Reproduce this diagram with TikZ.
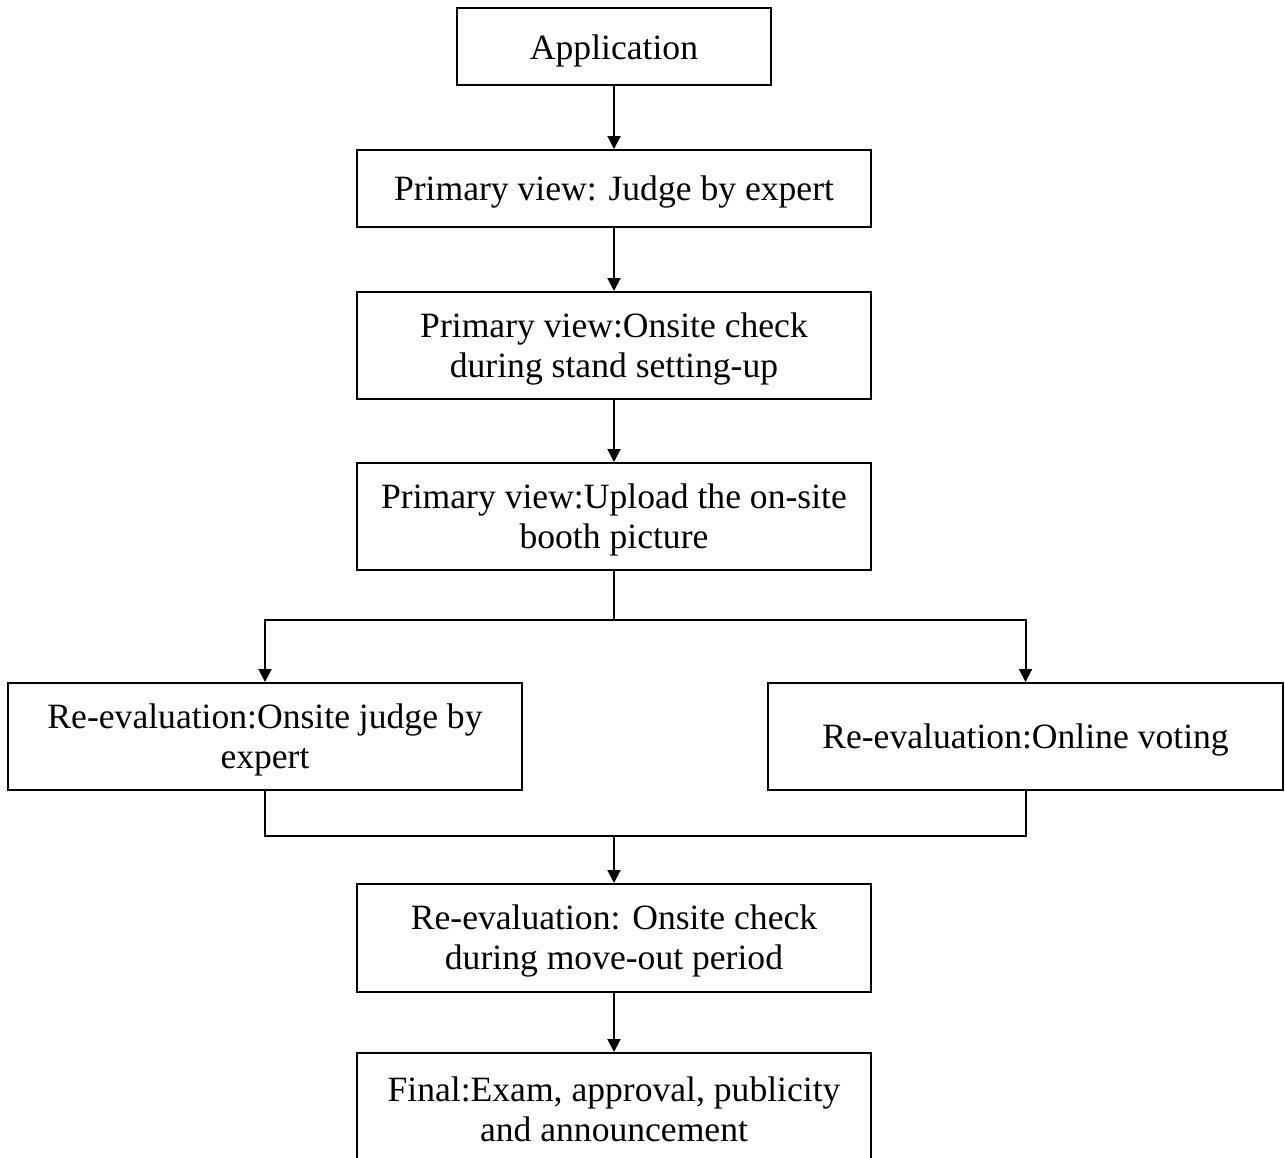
\documentclass[tikz,border=0pt]{standalone}
\usepackage{fontspec}
\setmainfont{Liberation Serif}
\usetikzlibrary{arrows.meta}
\begin{document}
\begin{tikzpicture}[x=1pt,y=-1pt,
  box/.style={draw,line width=2pt,rectangle,inner sep=0pt},
  txt/.style={inner sep=0pt,align=center,font=\fontsize{35.6}{40}\selectfont},
  arr/.style={line width=2pt,-{Triangle[length=13pt,width=13pt]}},
  ln/.style={line width=2pt}]
\useasboundingbox (0,0) rectangle (1285,1157);
\node[box,minimum width=314pt,minimum height=77pt] (app) at (614,46.5) {};
\node[box,minimum width=514pt,minimum height=77pt] (j) at (614,188.5) {};
\node[box,minimum width=514pt,minimum height=107pt] (c) at (614,345.5) {};
\node[box,minimum width=514pt,minimum height=107pt] (u) at (614,516.5) {};
\node[box,minimum width=514pt,minimum height=107pt] (l) at (265,736.5) {};
\node[box,minimum width=515pt,minimum height=107pt] (r) at (1025.5,736.5) {};
\node[box,minimum width=514pt,minimum height=108pt] (m) at (614,938) {};
\node[box,minimum width=514pt,minimum height=107pt] (f) at (614,1106.5) {};
\node[txt] (appt) at ([yshift=-4pt]app.center) {Application};
\node[txt] (jt) at ([yshift=-3pt]j.center) {Primary view: Judge by expert};
\node[txt] (ct) at ([yshift=-3pt]c.center) {Primary view:Onsite check\\during stand setting-up};
\node[txt] (ut) at ([yshift=-3pt]u.center) {Primary view:Upload the on-site\\booth picture};
\node[txt] (lt) at ([yshift=-3pt]l.center) {Re-evaluation:Onsite judge by\\expert};
\node[txt] (rt) at ([yshift=-3pt]r.center) {Re-evaluation:Online voting};
\node[txt] (mt) at ([yshift=-3pt]m.center) {Re-evaluation: Onsite check\\during move-out period};
\node[txt] (ft) at ([yshift=-3pt]f.center) {Final:Exam, approval, publicity\\and announcement};
\coordinate (s) at (614,620);
\coordinate (mj) at (614,836);
\draw[arr] (app) -- (j);
\draw[arr] (j) -- (c);
\draw[arr] (c) -- (u);
\draw[ln] (u.south) -- (s);
\draw[arr] (s) -| (l.north);
\draw[arr] (s) -| (r.north);
\draw[ln] (l.south) |- (mj);
\draw[ln] (r.south) |- (mj);
\draw[arr] (mj) -- (m);
\draw[arr] (m) -- (f);
\end{tikzpicture}
\end{document}
